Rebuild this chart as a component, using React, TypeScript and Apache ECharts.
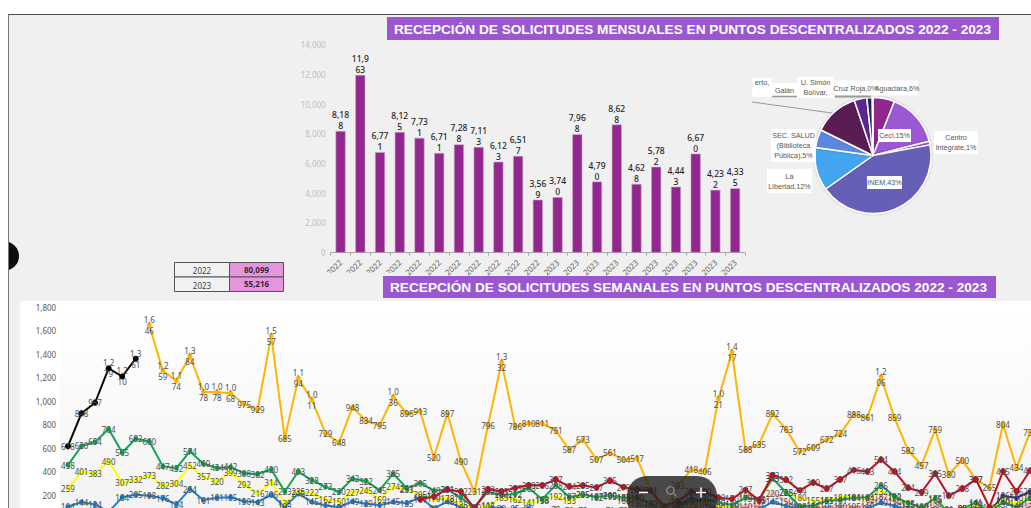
import React, { useEffect, useRef } from "react";
import * as echarts from "echarts";

const monthYears = ["2022","2022","2022","2022","2022","2022","2022","2022","2022","2022","2022","2023","2023","2023","2023","2023","2023","2023","2023","2023","2023"];
const monthly = [8188,11963,6771,8125,7731,6711,7288,7113,6123,6517,3569,3740,7968,4790,8628,4628,5782,4443,6670,4232,4335];

const pieNames = ["Aguaclara,6%","Ceci,15%","Centro\nIntégrate,1%","INEM,43%","La\nLibertad,12%","SEC. SALUD\n(Biblioteca\nPública),5%","erto,\n ","Galán","U. Simón\nBolívar,","Cruz Roja,0%"];
const pieValues = [6,15,1,43,12,5,12.5,3.5,1.5,0.2];
const pieColors = ["#92278f","#9b59d0","#9b59d0","#665eb8","#42a5ee","#5b86df","#5a1a55","#5b2590","#1f2560","#d8d8e8"];
const pieLabelBoxes = [[897,88,42,15],[894.5,135.5,33,13],[956,142.5,44,23],[884.5,182.5,35,13],[789.5,181,45,24],[793.5,145.5,45,33],[762,87.5,20,19],[784.5,90,25,14],[815.5,87.5,37,21],[855.5,88,41,15]];

const tableYears = ["2022","2023"];
const tableTotals = ["80,099","55,216"];

const weeks = Array.from({ length: 72 }, (_, i) => String(i + 1));
const n = null;
const black = [618,898,987,1279,1210,1361];
const amber = [n,n,n,n,n,n,1646,1259,1174,1384,1078,1078,1068,975,929,1557,685,1194,1011,729,648,948,834,795,1036,896,913,520,897,490,231,796,1332,786,810,811,751,587,673,507,561,504,517,241,65,283,418,406,1021,1417,588,635,892,763,572,609,672,724,888,861,1206,859,582,457,759,380,500,337,265,804,434,738];
const green = [458,620,654,764,565,682,660,447,432,574,469,434,442,388,382,420,233,403,328,273,230,342,322,245,385,261,305,240,251,178,100,232,204,212,263,168,288,187,205,187,200,183,180,130,40,100,150,170,140,120,178,165,345,225,108,114,155,161,181,184,286,192,135,100,175,50,85,141,60,140,100,180];
const yellow = [259,401,383,490,307,332,373,282,304,452,357,320,399,292,216,314,135,235,222,162,150,227,245,169,274,253,205,170,178,125,85,113,185,162,141,158,192,153,205,182,195,185,170,130,30,90,120,140,100,110,190,155,345,228,180,155,161,184,184,162,232,180,125,103,165,70,90,120,60,160,130,185];
const blue = [104,144,124,60,184,205,198,176,124,254,161,181,185,150,143,206,105,215,145,115,100,149,129,117,145,135,185,90,148,100,40,105,90,85,92,60,78,70,75,62,71,72,60,50,30,40,60,50,70,60,70,80,145,110,90,90,80,85,80,90,140,110,80,70,75,40,50,60,30,80,50,70];
const darkRed = [n,n,n,n,n,n,n,n,n,n,n,n,n,n,n,n,n,n,n,n,n,n,n,n,n,n,167,190,251,232,95,253,235,263,288,286,337,274,285,267,325,270,250,241,110,150,232,230,180,170,247,161,373,332,244,309,257,337,416,403,504,404,264,229,385,197,258,337,100,405,236,410];
const pink = [n,n,n,n,n,n,n,n,n,n,n,n,n,n,n,n,n,n,n,n,n,n,n,n,n,n,n,n,n,n,n,n,n,n,n,n,n,n,n,n,200,160,130,100,90,100,105,100,100,105,110,115,220,150,100,90,105,110,105,110,187,150,115,100,130,80,85,95,60,150,105,130];
const navy = [n,n,n,n,n,n,n,n,n,n,n,n,n,n,n,n,n,n,n,n,n,n,n,n,n,n,n,n,n,n,n,n,n,n,n,n,n,n,n,n,n,n,n,n,40,120,170,140,70,n,n,n,n,n,n,n,n,n,n,n,n,n,n,n,n,n,70,120,60,196,180,232];

const titleTop = "RECEPCIÓN DE SOLICITUDES MENSUALES EN PUNTOS DESCENTRALIZADOS 2022 - 2023";
const titleBottom = "RECEPCIÓN DE SOLICITUDES SEMANALES EN PUNTOS DESCENTRALIZADOS 2022 - 2023";

const PURPLE = "#9b57d2";
const sans = "'Noto Sans', sans-serif";
const arial = "'Liberation Sans', Arial, sans-serif";

function splitValue(v: number, head: number) {
  const s = v.toLocaleString("en-US");
  return s.length > 4 ? s.slice(0, head) + "\n" + s.slice(head) : s;
}

function lineSeries(data: (number | null)[], color: string, width = 2, size = 5, z = 3) {
  return {
    type: "line", xAxisIndex: 1, yAxisIndex: 1, data, z,
    connectNulls: false, symbol: "circle", symbolSize: size,
    lineStyle: { color, width }, itemStyle: { color },
    label: {
      show: true, position: "inside", color: "#4d4d4d", fontFamily: sans, fontSize: 8, lineHeight: 11,
      formatter: (p: any) => splitValue(p.value, 3),
    },
  };
}

export default function App() {
  const ref = useRef<HTMLDivElement>(null);
  useEffect(() => {
    const chart = echarts.init(ref.current!, undefined, { renderer: "svg" });
    const tableCells: any[] = [];
    tableYears.forEach((y, i) => {
      const top = 262.5 + i * 14.5;
      tableCells.push(
        { type: "rect", z: 50, shape: { x: 174.5, y: top, width: 55, height: 14.5 }, style: { fill: "#f1f1f1", stroke: "#555", lineWidth: 1 } },
        { type: "rect", z: 50, shape: { x: 229.5, y: top, width: 54, height: 14.5 }, style: { fill: "#e495dc", stroke: "#555", lineWidth: 1 } },
        { type: "text", z: 51, style: { x: 202, y: top + 8, text: y, fill: "#444", font: `8px ${sans}`, textAlign: "center", textVerticalAlign: "middle" } },
        { type: "text", z: 51, style: { x: 256.5, y: top + 6.5, text: tableTotals[i], fill: "#3a2a3a", font: `bold 8px ${sans}`, textAlign: "center", textVerticalAlign: "middle" } },
      );
    });
    chart.setOption({
      animation: false,
      backgroundColor: "#ffffff",
      grid: [
        { left: 330.7, top: 44.7, width: 414.3, height: 208, outerBoundsMode: "none" },
        { left: 61.2, top: 307, width: 975.6, height: 212, outerBoundsMode: "none" },
      ],
      xAxis: [
        {
          type: "category", gridIndex: 0, data: monthYears,
          axisLine: { lineStyle: { color: "#a8a8a8" } },
          axisTick: { show: true, length: 3, lineStyle: { color: "#a8a8a8" } },
          axisLabel: { interval: 0, rotate: 45, color: "#666", fontSize: 8, fontFamily: sans, margin: 8 },
        },
        {
          type: "category", gridIndex: 1, data: weeks,
          axisLine: { show: false }, axisTick: { show: false }, axisLabel: { show: false },
        },
      ],
      yAxis: [
        {
          type: "value", gridIndex: 0, min: 0, max: 14000, interval: 2000,
          axisLine: { show: false }, axisTick: { show: false }, splitLine: { show: false },
          axisLabel: { color: "#c0c0c0", fontSize: 8, fontFamily: sans, margin: 5, formatter: (v: number) => v.toLocaleString("en-US") },
        },
        {
          type: "value", gridIndex: 1, min: 0, max: 1800, interval: 200,
          axisLine: { show: false }, axisTick: { show: false }, splitLine: { show: false },
          axisLabel: { color: "#595959", fontSize: 8, fontFamily: sans, margin: 5, formatter: (v: number) => v.toLocaleString("en-US") },
        },
      ],
      series: [
        {
          type: "bar", xAxisIndex: 0, yAxisIndex: 0, data: monthly, barWidth: 10, z: 3,
          itemStyle: { color: "#92278f", borderColor: "#c7a6c6", borderWidth: 0.6 },
          label: {
            show: true, position: "top", distance: 0, color: "#262626", fontFamily: sans, fontSize: 8.5, lineHeight: 11, fontWeight: 500,
            formatter: (p: any) => splitValue(p.value, 4),
          },
        },
        {
          type: "pie", center: [873, 155.5], radius: [0, 58], startAngle: 90, clockwise: true,
          avoidLabelOverlap: false, z: 4,
          data: pieValues.map((value, i) => ({
            name: pieNames[i], value, itemStyle: { color: pieColors[i] },
            label: { width: pieLabelBoxes[i][2], height: pieLabelBoxes[i][3], overflow: "none" },
          })),
          itemStyle: { borderColor: "#ffffff", borderWidth: 1.5, shadowBlur: 2, shadowColor: "rgba(0,0,0,0.25)" },
          label: {
            show: true, position: "outside", formatter: "{b}", color: "#555", fontFamily: arial, fontSize: 7.2, lineHeight: 10,
            backgroundColor: "#ffffff", align: "center", verticalAlign: "middle",
          },
          labelLine: { show: false },
          labelLayout: (p: any) => {
            const b = pieLabelBoxes[p.dataIndex];
            return { x: b[0], y: b[1], align: "center", verticalAlign: "middle" };
          },
          silent: true,
        },
        lineSeries(pink, "#ffb6b6", 3, 4, 2),
        lineSeries(blue, "#1f7fcf"),
        lineSeries(navy, "#2e2a7a"),
        lineSeries(yellow, "#ffff00"),
        lineSeries(green, "#0ea654"),
        lineSeries(amber, "#ffb400"),
        lineSeries(darkRed, "#bf0d22", 2, 6, 4),
        lineSeries(black, "#000000", 2, 6, 4),
      ],
      graphic: [
        { type: "rect", z: -10, shape: { x: 9, y: 15, width: 1022, height: 493 }, style: { fill: "#f0f0f0" } },
        { type: "rect", z: -9, shape: { x: 20, y: 301, width: 1011, height: 207 }, style: { fill: "#ffffff" } },
        { type: "rect", z: -8, shape: { x: 60, y: 315, width: 971, height: 193 }, style: { fill: { type: "linear", x: 0, y: 0, x2: 0, y2: 1, colorStops: [{ offset: 0, color: "#ffffff" }, { offset: 1, color: "#f3f3f3" }] } } },
        { type: "line", z: -7, shape: { x1: 8, y1: 14.5, x2: 1031, y2: 14.5 }, style: { stroke: "#4a4a4a", lineWidth: 1 } },
        { type: "sector", z: 60, shape: { cx: 4.5, cy: 256, r: 14.5, startAngle: -Math.PI / 2, endAngle: Math.PI / 2 }, style: { fill: "#0d0d0d" } },
        { type: "rect", z: 61, shape: { x: 0, y: 15, width: 8, height: 493 }, style: { fill: "#ffffff" } },
        { type: "line", z: 61, shape: { x1: 8.5, y1: 14, x2: 8.5, y2: 508 }, style: { stroke: "#777", lineWidth: 1 } },
        { type: "rect", z: 20, shape: { x: 296, y: 273, width: 100, height: 28 }, style: { fill: "#f0f0f0" } },
        { type: "rect", z: 60, shape: { x: 387, y: 17, width: 612, height: 23 }, style: { fill: PURPLE } },
        { type: "text", z: 61, style: { x: 394, y: 29, text: titleTop, fill: "#ffffff", font: `bold 13.65px ${arial}`, textVerticalAlign: "middle" } },
        { type: "rect", z: 60, shape: { x: 383, y: 276, width: 613, height: 22 }, style: { fill: PURPLE } },
        { type: "text", z: 61, style: { x: 390, y: 287, text: titleBottom, fill: "#ffffff", font: `bold 13.65px ${arial}`, textVerticalAlign: "middle" } },
        ...tableCells,
        { type: "line", z: 6, shape: { x1: 752, y1: 102, x2: 832, y2: 113 }, style: { stroke: "#999", lineWidth: 1 } },
        { type: "line", z: 6, shape: { x1: 772, y1: 96.5, x2: 797, y2: 96.5 }, style: { stroke: "#9a9a9a", lineWidth: 1.5 } },
        { type: "line", z: 6, shape: { x1: 835, y1: 96.5, x2: 871, y2: 96.5 }, style: { stroke: "#9a9a9a", lineWidth: 2 } },
        { type: "rect", z: 70, shape: { x: 627, y: 476, width: 90, height: 44, r: 20 }, style: { fill: "rgba(35,35,35,0.82)" } },
        { type: "line", z: 71, shape: { x1: 639, y1: 492.5, x2: 648, y2: 492.5 }, style: { stroke: "#ffffff", lineWidth: 1.5 } },
        { type: "circle", z: 71, shape: { cx: 670.5, cy: 490.5, r: 3.8 }, style: { fill: "none", stroke: "#8a8a8a", lineWidth: 1.3 } },
        { type: "line", z: 71, shape: { x1: 673.5, y1: 493.5, x2: 676.5, y2: 496.5 }, style: { stroke: "#8a8a8a", lineWidth: 1.3 } },
        { type: "line", z: 71, shape: { x1: 696, y1: 492.5, x2: 706, y2: 492.5 }, style: { stroke: "#ffffff", lineWidth: 1.5 } },
        { type: "line", z: 71, shape: { x1: 701, y1: 487.5, x2: 701, y2: 497.5 }, style: { stroke: "#ffffff", lineWidth: 1.5 } },
      ],
    });
    return () => chart.dispose();
  }, []);
  return (
    <div style={{ position: "absolute", left: 0, top: 0, width: 1031, height: 508, overflow: "hidden" }}>
      <div ref={ref} style={{ width: 1031, height: 560 }} />
    </div>
  );
}
